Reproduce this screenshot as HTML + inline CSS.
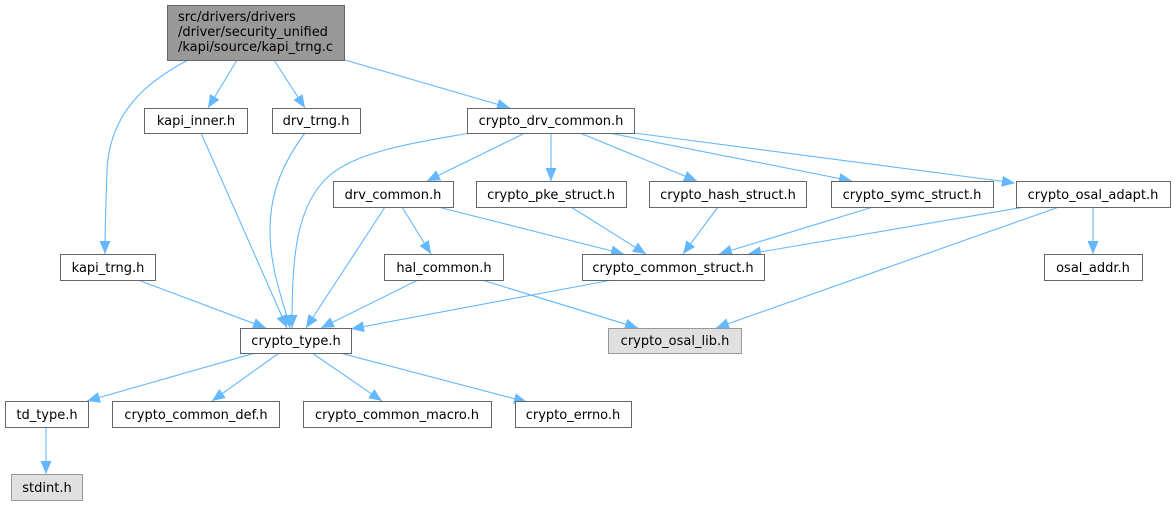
<!DOCTYPE html>
<html><head><meta charset="utf-8"><style>
html,body{margin:0;padding:0;background:#fff;}
svg{display:block;}
text{font-family:"DejaVu Sans","Liberation Sans",sans-serif;font-size:13px;fill:#000;}
</style></head><body>
<svg width="1175" height="505" viewBox="0 0 1175 505" xmlns="http://www.w3.org/2000/svg">
<defs>
<marker id="a" markerWidth="14" markerHeight="11" refX="13" refY="5.5" orient="auto" markerUnits="userSpaceOnUse">
<path d="M0,0 L13,5.5 L0,11 z" fill="#63b8ff"/>
</marker>
</defs>
<g fill="none" stroke="#63b8ff" stroke-width="1.1" marker-end="url(#a)">
<path d="M237,60 L208,108"/>
<path d="M274,60 L305,108"/>
<path d="M188,60 C150,80 110,110 107,170 C106,200 105,225 105,254"/>
<path d="M345,60 L510,108"/>
<path d="M201,133 L287,328"/>
<path d="M305,133 C285,160 270,190 270,230 C270,270 283,300 290,328"/>
<path d="M470,133 C420,142 360,150 330,175 C295,205 292,260 292,328"/>
<path d="M525,133 L427,181"/>
<path d="M551,133 L551,181"/>
<path d="M580,133 L697,181"/>
<path d="M609,133 L852,181"/>
<path d="M634,133 L1015,183"/>
<path d="M385,207 L306,328"/>
<path d="M402,207 L431,254"/>
<path d="M438,207 L624,254"/>
<path d="M571,207 L646,254"/>
<path d="M718,207 L683,254"/>
<path d="M873,207 L719,254"/>
<path d="M1025,207 L748,254"/>
<path d="M1059,207 L716,328"/>
<path d="M1093,207 L1093,254"/>
<path d="M612,280 L351,329"/>
<path d="M418,280 L321,328"/>
<path d="M482,280 L638,328"/>
<path d="M138,280 L266,328"/>
<path d="M255,353 L87,401"/>
<path d="M279,353 L212,401"/>
<path d="M312,353 L382,401"/>
<path d="M340,353 L527,402"/>
<path d="M46,427 L46,474"/>
</g>
<g stroke="#666" stroke-width="1" fill="#fff">
<rect x="167.5" y="5.5" width="177" height="55" fill="#999999"/>
<rect x="144.5" y="108.5" width="103" height="25"/>
<rect x="272.5" y="108.5" width="88" height="25"/>
<rect x="467.5" y="108.5" width="167" height="25"/>
<rect x="333.5" y="181.5" width="120" height="26"/>
<rect x="476.5" y="181.5" width="150" height="26"/>
<rect x="649.5" y="181.5" width="157" height="26"/>
<rect x="831.5" y="181.5" width="162" height="26"/>
<rect x="1016.5" y="181.5" width="154" height="26"/>
<rect x="1044.5" y="254.5" width="98" height="26"/>
<rect x="582.5" y="254.5" width="182" height="26"/>
<rect x="384.5" y="254.5" width="119" height="26"/>
<rect x="60.5" y="254.5" width="95" height="26"/>
<rect x="240.5" y="328.5" width="111" height="25"/>
<rect x="608.5" y="328.5" width="133" height="25" fill="#e0e0e0" stroke="#999"/>
<rect x="5.5" y="401.5" width="83" height="26"/>
<rect x="112.5" y="401.5" width="167" height="26"/>
<rect x="303.5" y="401.5" width="188" height="26"/>
<rect x="515.5" y="401.5" width="116" height="26"/>
<rect x="11.5" y="474.5" width="71" height="26" fill="#e0e0e0" stroke="#999"/>
</g>
<g>
<text x="178" y="21">src/drivers/drivers</text>
<text x="178" y="36">/driver/security_unified</text>
<text x="178" y="51">/kapi/source/kapi_trng.c</text>
</g>
<g text-anchor="middle">
<text x="196" y="125">kapi_inner.h</text>
<text x="316" y="125">drv_trng.h</text>
<text x="551" y="125">crypto_drv_common.h</text>
<text x="393" y="199">drv_common.h</text>
<text x="551" y="199">crypto_pke_struct.h</text>
<text x="728" y="199">crypto_hash_struct.h</text>
<text x="912" y="199">crypto_symc_struct.h</text>
<text x="1093" y="199">crypto_osal_adapt.h</text>
<text x="1093" y="272">osal_addr.h</text>
<text x="673" y="272">crypto_common_struct.h</text>
<text x="444" y="272">hal_common.h</text>
<text x="108" y="272">kapi_trng.h</text>
<text x="296" y="345">crypto_type.h</text>
<text x="675" y="345">crypto_osal_lib.h</text>
<text x="47" y="419">td_type.h</text>
<text x="196" y="419">crypto_common_def.h</text>
<text x="397" y="419">crypto_common_macro.h</text>
<text x="573" y="419">crypto_errno.h</text>
<text x="47" y="492">stdint.h</text>
</g>
</svg>
</body></html>
